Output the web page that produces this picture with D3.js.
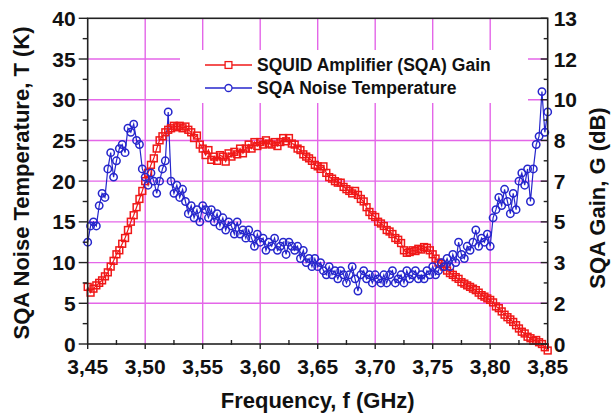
<!DOCTYPE html>
<html>
<head>
<meta charset="utf-8">
<script src="https://cdn.jsdelivr.net/npm/d3@7"></script>
<style>
  html, body { margin: 0; padding: 0; background: #fff; }
  svg { display: block; }
  text { font-family: "Liberation Sans", Arial, sans-serif; font-weight: bold; fill: #111; }
</style>
</head>
<body>
<svg id="chart" width="612" height="418"></svg>
<script>
// ---------- data ----------
const frequencies = [
  3.45,3.4525,3.455,3.4575,3.46,3.4625,3.465,3.4675,3.47,3.4725,
  3.475,3.4775,3.48,3.4825,3.485,3.4875,3.49,3.4925,3.495,3.4975,
  3.5,3.5025,3.505,3.5075,3.51,3.5125,3.515,3.5175,3.52,3.5225,
  3.525,3.5275,3.53,3.5325,3.535,3.5375,3.54,3.5425,3.545,3.5475,
  3.55,3.5525,3.555,3.5575,3.56,3.5625,3.565,3.5675,3.57,3.5725,
  3.575,3.5775,3.58,3.5825,3.585,3.5875,3.59,3.5925,3.595,3.5975,
  3.6,3.6025,3.605,3.6075,3.61,3.6125,3.615,3.6175,3.62,3.6225,
  3.625,3.6275,3.63,3.6325,3.635,3.6375,3.64,3.6425,3.645,3.6475,
  3.65,3.6525,3.655,3.6575,3.66,3.6625,3.665,3.6675,3.67,3.6725,
  3.675,3.6775,3.68,3.6825,3.685,3.6875,3.69,3.6925,3.695,3.6975,
  3.7,3.7025,3.705,3.7075,3.71,3.7125,3.715,3.7175,3.72,3.7225,
  3.725,3.7275,3.73,3.7325,3.735,3.7375,3.74,3.7425,3.745,3.7475,
  3.75,3.7525,3.755,3.7575,3.76,3.7625,3.765,3.7675,3.77,3.7725,
  3.775,3.7775,3.78,3.7825,3.785,3.7875,3.79,3.7925,3.795,3.7975,
  3.8,3.8025,3.805,3.8075,3.81,3.8125,3.815,3.8175,3.82,3.8225,
  3.825,3.8275,3.83,3.8325,3.835,3.8375,3.84,3.8425,3.845,3.8475,
  3.85
];

// SQUID Amplifier (SQA) Gain, dB (right axis)
const gainDb = [
  2.28,2.05,2.21,2.34,2.44,2.54,2.70,2.86,3.09,3.32,
  3.58,3.74,4.00,4.23,4.55,4.88,5.14,5.46,5.79,6.11,
  6.50,6.83,7.15,7.41,7.80,8.13,8.29,8.45,8.55,8.61,
  8.71,8.65,8.71,8.61,8.68,8.55,8.45,8.22,8.32,7.96,
  7.80,7.54,7.74,7.35,7.48,7.31,7.54,7.48,7.28,7.61,
  7.48,7.67,7.57,7.80,7.61,7.80,7.96,7.80,8.06,7.90,
  8.06,7.96,8.13,8.00,7.96,8.06,7.90,8.06,8.22,8.09,
  8.22,8.00,7.96,7.80,7.74,7.57,7.48,7.41,7.31,7.15,
  7.09,6.99,7.09,6.83,6.66,6.60,6.50,6.44,6.44,6.27,
  6.18,6.11,6.01,6.11,5.95,5.79,5.69,5.46,5.27,5.14,
  5.07,4.88,4.81,4.71,4.55,4.49,4.39,4.23,4.16,4.03,
  3.74,3.64,3.67,3.74,3.71,3.80,3.77,3.87,3.84,3.74,
  3.58,3.41,3.25,3.19,3.09,2.93,2.83,2.76,2.67,2.60,
  2.47,2.41,2.34,2.28,2.21,2.15,2.05,1.95,1.89,1.82,
  1.76,1.66,1.50,1.43,1.30,1.17,1.07,0.98,0.88,0.75,
  0.62,0.49,0.42,0.29,0.23,0.13,0.16,0.07,0.00,-0.13,
  -0.26
];

// SQA Noise Temperature, K (left axis)
const noiseK = [
  12.5,14.5,15,14.5,17,18.5,18,21.5,23.5,20.5,
  22.5,24,24.5,23.5,26.5,26,27,25,24.5,21.5,
  20.5,19.5,21,20,18.5,20,21.5,22.5,28.5,20,
  18.5,19.5,18,19,17.5,16,17,15.5,16.5,15,
  17,16.5,15.5,16.5,15,16,14.5,15.5,14,15,
  14.5,13.5,15,13.5,14,13,14,13,12,13.5,
  12.5,13,11.5,12.5,12,13,11.5,12,12.5,11,
  12.5,12,11.5,12,10.5,11.5,10,10.5,9.5,10.5,
  9.5,10,9,8.5,9.5,8.5,9,8,9,8.5,
  7.5,8.5,9.5,8,6.5,8.5,9,8,8.5,7.5,
  8.5,8,7.5,8.5,7.5,8.5,9,7.5,8,8.5,
  7.5,9,8,8.5,9,8,8.5,8,9,8.5,
  9.5,8.5,9,10,9.5,10.5,9.5,11,10,12.5,
  11,10.5,12,11.5,12.5,14,12,13,12.5,13.5,
  12,15.5,16.5,18,17,19,17.5,16,18.5,16.5,
  20,21,19.5,21.5,17.5,21.5,24.5,25.5,31,26,
  28.5
];

const xTicks = [3.45,3.50,3.55,3.60,3.65,3.70,3.75,3.80,3.85];
const xTickLabels = ["3,45","3,50","3,55","3,60","3,65","3,70","3,75","3,80","3,85"];
const leftTicks = [0,5,10,15,20,25,30,35,40];
const leftTickLabels = ["0","5","10","15","20","25","30","35","40"];
const rightTicks = [0,1.625,3.25,4.875,6.5,8.125,9.75,11.375,13];
const rightTickLabels = ["0","2","3","5","7","8","10","12","13"];
const seriesNames = ["SQUID Amplifier (SQA) Gain","SQA Noise Temperature"];
const axisTitles = { x: "Frequency, f (GHz)", left: "SQA Noise Temperature,  T (K)", right: "SQA Gain, G (dB)" };

// ---------- layout ----------
const L = 87.7, R = 547.7, T = 18.3, B = 344;
const RED = "#f01818", BLUE = "#2626cc", GRID = "#e466e8", AX = "#222";

const svg = d3.select("#chart");
const x = d3.scaleLinear().domain([3.45, 3.85]).range([L, R]);
const yL = d3.scaleLinear().domain([0, 40]).range([B, T]);
const yR = d3.scaleLinear().domain([0, 13]).range([B, T]);

const gainData = frequencies.map((f, i) => ({ f, v: gainDb[i] }));
const noiseData = frequencies.map((f, i) => ({ f, v: noiseK[i] }));

// grid
const grid = svg.append("g").attr("stroke", GRID).attr("stroke-width", 1.4);
grid.selectAll(".gv").data(xTicks.slice(1, -1)).enter().append("line")
  .attr("x1", d => x(d)).attr("x2", d => x(d)).attr("y1", T).attr("y2", B);
grid.selectAll(".gh").data(leftTicks.slice(1, -1)).enter().append("line")
  .attr("x1", L).attr("x2", R).attr("y1", d => yL(d)).attr("y2", d => yL(d));

// legend background (covers grid)
svg.append("rect").attr("x", 180).attr("y", 50).attr("width", 348).attr("height", 53).attr("fill", "#fff");

// series lines
const lineG = d3.line().x(d => x(d.f)).y(d => yR(d.v));
const lineN = d3.line().x(d => x(d.f)).y(d => yL(d.v));
svg.append("path").datum(gainData).attr("d", lineG).attr("fill", "none").attr("stroke", RED).attr("stroke-width", 1.2);
svg.append("path").datum(noiseData).attr("d", lineN).attr("fill", "none").attr("stroke", BLUE).attr("stroke-width", 1.2);

// markers
const sq = 6.8;
svg.append("g").selectAll("rect").data(gainData).enter().append("rect")
  .attr("x", d => x(d.f) - sq / 2).attr("y", d => yR(d.v) - sq / 2)
  .attr("width", sq).attr("height", sq)
  .attr("fill", "none").attr("stroke", RED).attr("stroke-width", 1.5);
svg.append("g").selectAll("circle").data(noiseData).enter().append("circle")
  .attr("cx", d => x(d.f)).attr("cy", d => yL(d.v)).attr("r", 3.7)
  .attr("fill", "none").attr("stroke", BLUE).attr("stroke-width", 1.5);

// frame
const frame = svg.append("g").attr("stroke", AX).attr("stroke-width", 1.6).attr("fill", "none");
frame.append("rect").attr("x", L).attr("y", T).attr("width", R - L).attr("height", B - T);

// left axis ticks
const ax = svg.append("g").attr("stroke", AX).attr("stroke-width", 1.4);
ax.selectAll(".lt").data(leftTicks).enter().append("line")
  .attr("x1", L - 9).attr("x2", L).attr("y1", d => yL(d)).attr("y2", d => yL(d));
ax.selectAll(".lm").data(leftTicks.slice(0, -1)).enter().append("line")
  .attr("x1", L - 5).attr("x2", L).attr("y1", d => yL(d + 2.5)).attr("y2", d => yL(d + 2.5));
// right axis ticks (inward)
ax.selectAll(".rt").data(rightTicks).enter().append("line")
  .attr("x1", R - 7).attr("x2", R).attr("y1", d => yR(d)).attr("y2", d => yR(d));
ax.selectAll(".rm").data(rightTicks.slice(0, -1)).enter().append("line")
  .attr("x1", R - 4).attr("x2", R).attr("y1", (d, i) => (yR(d) + yR(rightTicks[i + 1])) / 2)
  .attr("y2", (d, i) => (yR(d) + yR(rightTicks[i + 1])) / 2);
// bottom axis ticks
ax.selectAll(".bt").data(xTicks).enter().append("line")
  .attr("x1", d => x(d)).attr("x2", d => x(d)).attr("y1", B).attr("y2", B + 5);
ax.selectAll(".bm").data(xTicks.slice(0, -1)).enter().append("line")
  .attr("x1", d => x(d + 0.025)).attr("x2", d => x(d + 0.025)).attr("y1", B - 4).attr("y2", B + 1);

// tick labels
const fs = 21;
svg.append("g").selectAll("text").data(leftTicks).enter().append("text")
  .attr("x", L - 12).attr("y", d => yL(d)).attr("dy", "0.36em")
  .attr("text-anchor", "end").attr("font-size", fs).text((d, i) => leftTickLabels[i]);
svg.append("g").selectAll("text").data(rightTicks).enter().append("text")
  .attr("x", R + 6).attr("y", d => yR(d)).attr("dy", "0.36em")
  .attr("text-anchor", "start").attr("font-size", fs).text((d, i) => rightTickLabels[i]);
svg.append("g").selectAll("text").data(xTicks).enter().append("text")
  .attr("x", d => x(d)).attr("y", 374)
  .attr("text-anchor", "middle").attr("font-size", fs).text((d, i) => xTickLabels[i]);

// axis titles
svg.append("text").attr("x", (L + R) / 2).attr("y", 408).attr("text-anchor", "middle")
  .attr("font-size", 22).text(axisTitles.x);
svg.append("text").attr("transform", "translate(29,183) rotate(-90)").attr("text-anchor", "middle")
  .attr("font-size", 22).text(axisTitles.left);
svg.append("text").attr("transform", "translate(605,198) rotate(-90)").attr("text-anchor", "middle")
  .attr("font-size", 22).text(axisTitles.right);

// legend
const leg = svg.append("g");
const rows = [
  { name: seriesNames[0], color: RED, y: 65, marker: "square" },
  { name: seriesNames[1], color: BLUE, y: 88, marker: "circle" }
];
rows.forEach(r => {
  leg.append("line").attr("x1", 205).attr("x2", 252).attr("y1", r.y).attr("y2", r.y)
    .attr("stroke", r.color).attr("stroke-width", 1.4);
  if (r.marker === "square") {
    leg.append("rect").attr("x", 228.5 - sq / 2).attr("y", r.y - sq / 2).attr("width", sq).attr("height", sq)
      .attr("fill", "#fff").attr("stroke", r.color).attr("stroke-width", 1.3);
  } else {
    leg.append("circle").attr("cx", 228.5).attr("cy", r.y).attr("r", 3.5)
      .attr("fill", "#fff").attr("stroke", r.color).attr("stroke-width", 1.3);
  }
  leg.append("text").attr("x", 257).attr("y", r.y).attr("dy", "0.36em")
    .attr("font-size", 17.5).text(r.name);
});
</script>
</body>
</html>
